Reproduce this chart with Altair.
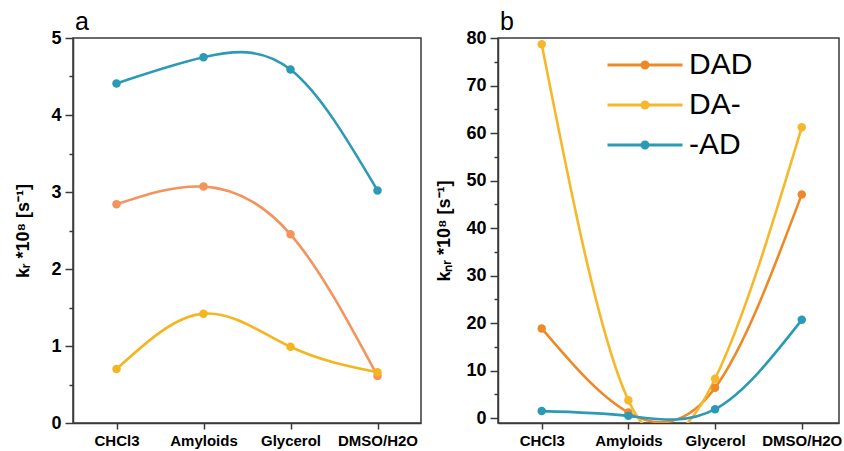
import altair as alt
import pandas as pd

solvents = ["CHCl3", "Amyloids", "Glycerol", "DMSO/H2O"]
series = ["DAD", "DA-", "-AD"]

# panel a: k_r * 1e8 [s^-1]
kr_DAD = [2.84, 3.07, 2.45, 0.61]
kr_DA = [0.70, 1.42, 0.99, 0.66]
kr_AD = [4.41, 4.75, 4.59, 3.02]

# panel b: k_nr * 1e8 [s^-1]
knr_DAD = [18.9, 1.2, 6.4, 47.1]
knr_DA = [78.7, 3.8, 8.3, 61.2]
knr_AD = [1.5, 0.5, 1.9, 20.7]

colors_a = ["#f4935b", "#f5b51e", "#2b9ab6"]
colors_b = ["#ed8a27", "#f6b82a", "#2b9ab6"]

minor_a = [0, 0.5, 1, 1.5, 2, 2.5, 3, 3.5, 4, 4.5, 5]
minor_b = [0, 5, 10, 15, 20, 25, 30, 35, 40, 45, 50, 55, 60, 65, 70, 75, 80]


def table(vals_list):
    rows = []
    for s, vals in zip(series, vals_list):
        for c, v in zip(solvents, vals):
            rows.append({"solvent": c, "series": s, "value": v})
    return pd.DataFrame(rows)


df_a = table([kr_DAD, kr_DA, kr_AD])
df_b = table([knr_DAD, knr_DA, knr_AD])

FONT = "Liberation Sans"
AX = "#3a3a3a"

r1, r2 = 0.08, 0.02
dot_path = (
    "M-1,0H1"
    f"M{r1},0A{r1},{r1},0,1,1,{-r1},0A{r1},{r1},0,1,1,{r1},0Z"
    f"M{r2},0A{r2},{r2},0,1,1,{-r2},0A{r2},{r2},0,1,1,{r2},0Z"
)


def panel(df, colors, ydomain, major, minor_vals, ytitle, tpad, label, width, xpad, xalign, legend):
    x = alt.X(
        "solvent:N",
        sort=solvents,
        scale=alt.Scale(type="point", padding=xpad, align=xalign),
        axis=alt.Axis(title=None, labelAngle=0, labelFontSize=15, labelPadding=4, tickSize=6),
    )
    y = alt.Y(
        "value:Q",
        scale=alt.Scale(domain=ydomain, nice=False, zero=False),
        axis=alt.Axis(
            title=ytitle,
            values=minor_vals,
            labelExpr=f"datum.value % {major} === 0 ? format(datum.value, 'd') : ''",
            tickSize={"condition": {"test": f"datum.value % {major} === 0", "value": 8}, "value": 4},
            labelFontSize=18,
            labelPadding=4,
            titleFontSize=18,
            titlePadding=tpad,
        ),
    )
    color = alt.Color("series:N", scale=alt.Scale(domain=series, range=colors), legend=legend)
    base = alt.Chart(df).encode(x=x, y=y, color=color, detail="series:N")
    lines = base.mark_line(interpolate="natural", strokeWidth=2.6, clip=True)
    pts = base.mark_point(filled=True, size=72, opacity=1, clip=True)
    return alt.layer(lines, pts).properties(
        width=width,
        height=385,
        title=alt.Title(label, anchor="start", frame="group", fontSize=25, fontWeight="normal",
                        font=FONT, offset=3, dx=2, dy=9, color="black"),
    )


legend_b = alt.Legend(
    title=None,
    orient="none",
    legendX=108,
    legendY=11,
    labelFontSize=30,
    labelFont=FONT,
    labelFontWeight="normal",
    labelColor="black",
    symbolType=dot_path,
    symbolSize=5625,
    symbolStrokeWidth=3,
    labelOffset=5,
    clipHeight=32,
    rowPadding=8,
)

a = panel(df_a, colors_a, [0, 5], 1, minor_a, "kᵣ *10⁸ [s⁻¹]", 18, "a", 348, 0.5, 0.5, None)
b = panel(df_b, colors_b, [-1, 80], 10, minor_b, "kₙᵣ *10⁸ [s⁻¹]", 12, "b", 341, 0.467, 0.54, legend_b)

chart = (
    alt.hconcat(a, b, spacing=13)
    .resolve_scale(color="independent")
    .properties(padding={"left": 14, "top": 9, "right": 0, "bottom": 0})
    .configure_view(stroke=AX, strokeWidth=1.5)
    .configure_axis(
        domainColor=AX,
        tickColor=AX,
        domainWidth=1.5,
        tickWidth=1.5,
        grid=False,
        labelFont=FONT,
        labelFontWeight="bold",
        labelColor="black",
        titleFont=FONT,
        titleFontWeight="bold",
        titleColor="black",
    )
)

chart.save("out.html", embed_options={"renderer": "svg", "actions": False})
